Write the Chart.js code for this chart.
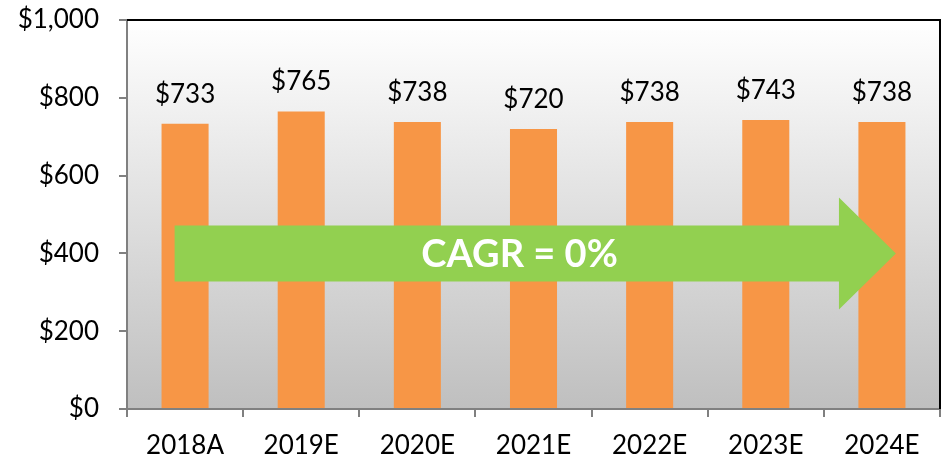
<!DOCTYPE html>
<html>
<head>
<meta charset="utf-8">
<script src="https://cdn.jsdelivr.net/npm/chart.js@4"></script>
<style>
  html, body { margin: 0; padding: 0; background: #fff; }
  #wrap { width: 943px; height: 460px; position: relative; }
</style>
</head>
<body>
<div id="wrap"><canvas id="stats"></canvas></div>
<script>
const years = ["2018A", "2019E", "2020E", "2021E", "2022E", "2023E", "2024E"];
const revenue = [733, 765, 738, 720, 738, 743, 738];
const yTicks = [0, 200, 400, 600, 800, 1000];
const cagrText = "CAGR = 0%";

// arrow in axis units: x in category index, y in dollars
const arrowFrom = -0.09, arrowHeadAt = 5.63, arrowTo = 6.12;
const arrowMid = 400, shaftHalf = 72, headHalf = 144;
const cagrAt = 2.88;

const money = v => "$" + v.toLocaleString("en-US");
const FONT = "Lato, 'Open Sans', sans-serif";

const plotBack = {
  id: "plotBack",
  beforeDraw(chart) {
    const { ctx, chartArea: a } = chart;
    const g = ctx.createLinearGradient(0, a.top, 0, a.bottom);
    g.addColorStop(0, "#ffffff");
    g.addColorStop(1, "#bfbfbf");
    ctx.save();
    ctx.fillStyle = g;
    ctx.fillRect(a.left, a.top, a.right - a.left, a.bottom - a.top);
    ctx.restore();
  },
  afterDatasetsDraw(chart) {
    const { ctx, chartArea: a, scales: { x, y } } = chart;
    ctx.save();
    // top and right frame
    ctx.strokeStyle = "#000";
    ctx.lineWidth = 2;
    ctx.beginPath();
    ctx.moveTo(a.left, a.top);
    ctx.lineTo(a.right, a.top);
    ctx.lineTo(a.right, a.bottom);
    ctx.stroke();

    // value labels
    const meta = chart.getDatasetMeta(0);
    ctx.fillStyle = "#000";
    ctx.font = "26px " + FONT;
    ctx.textAlign = "center";
    ctx.textBaseline = "alphabetic";
    meta.data.forEach((bar, i) => {
      ctx.fillText(money(revenue[i]), bar.x, bar.y - 21);
    });

    // growth arrow
    const x0 = x.getPixelForValue(arrowFrom);
    const xh = x.getPixelForValue(arrowHeadAt);
    const x1 = x.getPixelForValue(arrowTo);
    const ym = y.getPixelForValue(arrowMid);
    const sh = ym - y.getPixelForValue(arrowMid + shaftHalf);
    const hh = ym - y.getPixelForValue(arrowMid + headHalf);
    ctx.fillStyle = "#92d050";
    ctx.beginPath();
    ctx.moveTo(x0, ym - sh);
    ctx.lineTo(xh, ym - sh);
    ctx.lineTo(xh, ym - hh);
    ctx.lineTo(x1, ym);
    ctx.lineTo(xh, ym + hh);
    ctx.lineTo(xh, ym + sh);
    ctx.lineTo(x0, ym + sh);
    ctx.closePath();
    ctx.fill();

    ctx.fillStyle = "#fff";
    ctx.font = "bold 38px " + FONT;
    ctx.textBaseline = "middle";
    ctx.fillText(cagrText, x.getPixelForValue(cagrAt), ym + 1);
    ctx.restore();
  }
};

new Chart("stats", {
  type: "bar",
  data: {
    labels: years,
    datasets: [{
      data: revenue,
      backgroundColor: "#f79646",
      categoryPercentage: 1,
      barPercentage: 0.405
    }]
  },
  options: {
    responsive: true,
    maintainAspectRatio: false,
    animation: false,
    layout: { padding: { top: 20, right: 3 } },
    plugins: { legend: { display: false }, tooltip: { enabled: false } },
    scales: {
      x: {
        grid: { drawOnChartArea: false, color: "#808080", tickLength: 8, lineWidth: 2 },
        border: { color: "#808080", width: 2 },
        ticks: { color: "#000", font: { family: FONT, size: 26 }, padding: 13 },
        afterFit(s) { s.height = 51; s.paddingLeft = 0; s.paddingRight = 0; }
      },
      y: {
        min: 0,
        max: 1000,
        afterBuildTicks(s) { s.ticks = yTicks.map(v => ({ value: v })); },
        grid: { drawOnChartArea: false, color: "#808080", tickLength: 8, lineWidth: 2 },
        border: { color: "#808080", width: 2 },
        ticks: { color: "#000", font: { family: FONT, size: 26 }, padding: 20, callback: v => money(v) },
        afterFit(s) { s.width = 127; s.paddingTop = 0; s.paddingBottom = 0; }
      }
    }
  },
  plugins: [plotBack]
});
</script>
</body>
</html>
